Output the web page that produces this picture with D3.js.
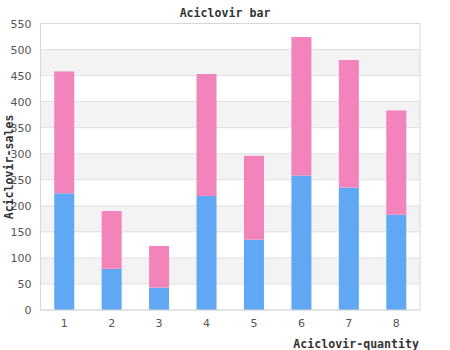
<!DOCTYPE html>
<html>
<head>
<meta charset="utf-8">
<script src="https://cdn.jsdelivr.net/npm/d3@7"></script>
<style>
  html, body { margin: 0; padding: 0; background: #fff; }
  svg { display: block; }
</style>
</head>
<body>
<svg id="chart" width="450" height="350"></svg>
<script>
// Categories and stacked series values
const categories = ["1", "2", "3", "4", "5", "6", "7", "8"];
const lowerValues = [224, 79, 43, 219, 135, 258, 235, 183];
const upperValues = [234, 111, 80, 234, 161, 266, 245, 200];
const yTicks = [0, 50, 100, 150, 200, 250, 300, 350, 400, 450, 500, 550];

const svg = d3.select("#chart");
const margin = { top: 23.5, right: 30, bottom: 40, left: 40.5 };
const width = 450 - margin.left - margin.right;
const height = 350 - margin.top - margin.bottom;

const x = d3.scaleBand().domain(categories).range([0, width]).padding(0);
const y = d3.scaleLinear().domain([0, 550]).range([height, 0]);

const g = svg.append("g").attr("transform", `translate(${margin.left},${margin.top})`);

// Alternating horizontal bands
const bands = d3.range(0, yTicks.length - 1);
g.selectAll("rect.band").data(bands).enter().append("rect")
  .attr("class", "band")
  .attr("x", 0)
  .attr("width", width)
  .attr("y", i => y(yTicks[i + 1]))
  .attr("height", i => y(yTicks[i]) - y(yTicks[i + 1]))
  .attr("fill", i => i % 2 === 1 ? "#f3f3f3" : "#ffffff");

// Grid lines
g.selectAll("line.grid").data(yTicks).enter().append("line")
  .attr("x1", 0).attr("x2", width)
  .attr("y1", d => y(d)).attr("y2", d => y(d))
  .attr("stroke", "#e0e0e0").attr("stroke-width", 1);

// Stacked bars
const barW = 20;
const stackData = categories.map((c, i) => ({ cat: c, lower: lowerValues[i], upper: upperValues[i] }));
const stacked = d3.stack().keys(["lower", "upper"])(stackData);
const colors = { lower: "#60a8f4", upper: "#f283bb" };

g.selectAll("g.layer").data(stacked).enter().append("g")
  .attr("fill", d => colors[d.key])
  .selectAll("rect").data(d => d).enter().append("rect")
  .attr("x", d => x(d.data.cat) + x.bandwidth() / 2 - barW / 2)
  .attr("width", barW)
  .attr("y", d => y(d[1]))
  .attr("height", d => y(d[0]) - y(d[1]));

// Plot frame
g.append("rect")
  .attr("x", 0).attr("y", 0)
  .attr("width", width).attr("height", height)
  .attr("fill", "none").attr("stroke", "#d8d8d8").attr("stroke-width", 1);

// Y axis
const yAxis = g.append("g")
  .call(d3.axisLeft(y).tickValues(yTicks).tickSize(0).tickPadding(9));
yAxis.select(".domain").remove();
yAxis.selectAll("text")
  .attr("fill", "#555")
  .style("font-family", "'DejaVu Sans', sans-serif")
  .style("font-size", "11px");

// X axis
const xAxis = g.append("g")
  .attr("transform", `translate(0,${height})`)
  .call(d3.axisBottom(x).tickSize(0).tickPadding(9));
xAxis.select(".domain").remove();
xAxis.selectAll("text")
  .attr("fill", "#555")
  .style("font-family", "'DejaVu Sans', sans-serif")
  .style("font-size", "11px");

// Title and axis titles
const mono = "'DejaVu Sans Mono', 'Liberation Mono', monospace";
svg.append("text")
  .attr("x", 225).attr("y", 17)
  .attr("text-anchor", "middle")
  .attr("fill", "#333")
  .style("font-family", mono).style("font-weight", "bold").style("font-size", "11.6px")
  .text("Aciclovir bar");

svg.append("text")
  .attr("x", 419).attr("y", 348)
  .attr("text-anchor", "end")
  .attr("fill", "#333")
  .style("font-family", mono).style("font-weight", "bold").style("font-size", "11.6px")
  .text("Aciclovir-quantity");

svg.append("text")
  .attr("transform", "translate(13,167) rotate(-90)")
  .attr("text-anchor", "middle")
  .attr("fill", "#333")
  .style("font-family", mono).style("font-weight", "bold").style("font-size", "11.6px")
  .text("Aciclovir-sales");
</script>
</body>
</html>
